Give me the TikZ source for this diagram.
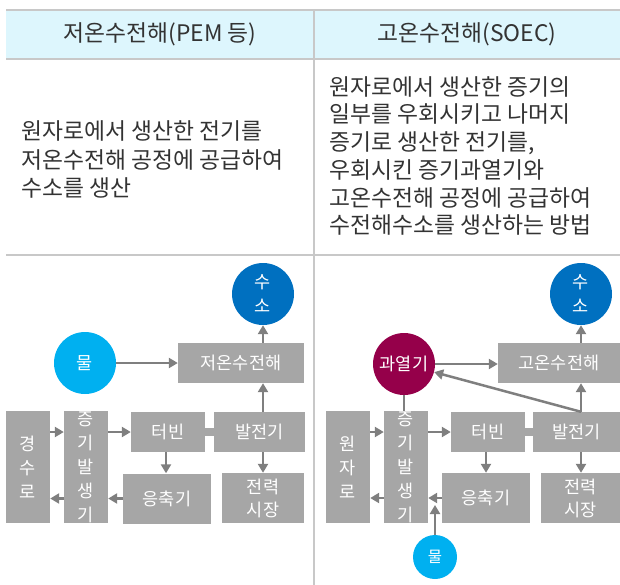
\documentclass[tikz,border=0pt]{standalone}
\usepackage{fontspec}
\setmainfont{Noto Sans CJK KR}
\usetikzlibrary{arrows.meta}
\definecolor{hdrfill}{HTML}{DDF6FD}
\definecolor{rulec}{HTML}{C8C8C8}
\definecolor{txtc}{HTML}{333333}
\definecolor{boxgray}{HTML}{A6A6A6}
\definecolor{arrgray}{HTML}{7F7F7F}
\definecolor{hblue}{HTML}{0070C0}
\definecolor{wblue}{HTML}{00B0F0}
\definecolor{shred}{HTML}{95004A}
\tikzset{
  gbox/.style={rectangle, fill=boxgray, inner sep=0pt, text=white, align=center,
    font=\fontsize{17.5}{24}\selectfont},
  circ/.style={circle, inner sep=0pt, text=white, align=center,
    font=\fontsize{17.5}{24}\selectfont},
  arr/.style={draw=arrgray, line width=2.5pt, -{Triangle[length=9pt,width=10pt]}},
  plain/.style={draw=arrgray, line width=2.5pt},
  shaft/.style={draw=boxgray, line width=8pt},
  rulel/.style={draw=rulec, line width=1.5pt},
  hdr/.style={text=txtc, font=\fontsize{22.8}{26}\selectfont},
  body/.style={text=txtc, align=left, anchor=west, inner sep=0pt}
}
\begin{document}
\begin{tikzpicture}[x=1pt, y=-1pt]
\useasboundingbox (0,0) rectangle (620,585);
% table
\fill[hdrfill] (6,10) rectangle (620,59);
\draw[rulel] (6,10) -- (620,10);
\draw[rulel] (6,59) -- (620,59);
\draw[rulel] (6,255) -- (620,255);
\draw[rulel] (314,10) -- (314,585);
\node[hdr] (hl) at (160,34) {저온수전해(PEM 등)};
\node[hdr] (hr) at (467,34) {고온수전해(SOEC)};
\node[body, font=\fontsize{22.8}{28.5}\selectfont] (tl) at (21,159.5)
  {원자로에서 생산한 전기를\\저온수전해 공정에 공급하여\\수소를 생산};
\node[body, font=\fontsize{22.8}{27.7}\selectfont] (tr) at (329,156)
  {원자로에서 생산한 증기의\\일부를 우회시키고 나머지\\증기로 생산한 전기를,\\우회시킨 증기과열기와\\고온수전해 공정에 공급하여\\수전해수소를 생산하는 방법};

% ---------- left diagram ----------
\node[circ, fill=hblue, minimum size=62pt] (Lh2) at (263,294) {수\\소};
\node[circ, fill=wblue, minimum size=62pt] (Lw) at (85,363) {물};
\node[gbox, minimum width=126pt, minimum height=40pt] (Lel) at (241,363) {저온수전해};
\node[gbox, minimum width=44pt, minimum height=112pt] (Lre) at (28,467) {경\\수\\로};
\node[gbox, minimum width=44pt, minimum height=112pt] (Lsg) at (86,467) {증\\기\\발\\생\\기};
\node[gbox, minimum width=74pt, minimum height=40pt] (Ltu) at (168,432) {터빈};
\node[gbox, minimum width=91pt, minimum height=40pt] (Lge) at (259.5,432) {발전기};
\node[gbox, minimum width=88pt, minimum height=50pt] (Lco) at (167,498.5) {응축기};
\node[gbox, minimum width=82pt, minimum height=50pt, font=\fontsize{17.5}{23}\selectfont] (Lmk) at (263,498) {전력\\시장};

\draw[shaft] (Ltu.east) -- (Lge.west);
\draw[arr] (Lre.east |- Ltu) -- (Lsg.west |- Ltu);
\draw[arr] (Lsg.east |- Ltu) -- (Ltu.west);
\draw[arr] (Lsg.west |- Lco) -- (Lre.east |- Lco);
\draw[arr] (Lco.west) -- (Lsg.east |- Lco);
\draw[arr] (166,452) coordinate (Lta) -- (Lta |- Lco.north);
\draw[arr] (Lh2 |- Lge.south) -- (Lh2 |- Lmk.north);
\draw[arr] (Lh2 |- Lge.north) -- (Lh2 |- Lel.south);
\draw[arr] (Lh2 |- Lel.north) -- (Lh2.south);
\draw[arr] (Lw.east) -- (Lel.west |- Lw);

% ---------- right diagram ----------
\node[circ, fill=hblue, minimum size=62pt] (Rh2) at (581,294) {수\\소};
\node[circ, fill=shred, minimum size=62pt] (Rsh) at (404,364) {과열기};
\node[gbox, minimum width=122pt, minimum height=40pt] (Rel) at (559,363) {고온수전해};
\node[gbox, minimum width=44pt, minimum height=112pt] (Rre) at (348,467) {원\\자\\로};
\node[gbox, minimum width=44pt, minimum height=112pt] (Rsg) at (406,467) {증\\기\\발\\생\\기};
\node[gbox, minimum width=74pt, minimum height=40pt] (Rtu) at (488,432) {터빈};
\node[gbox, minimum width=87pt, minimum height=40pt] (Rge) at (576.5,432) {발전기};
\node[gbox, minimum width=88pt, minimum height=50pt] (Rco) at (486,498) {응축기};
\node[gbox, minimum width=79pt, minimum height=50pt, font=\fontsize{17.5}{23}\selectfont] (Rmk) at (580.5,498) {전력\\시장};
\node[circ, fill=wblue, minimum size=44pt, font=\fontsize{15.5}{18}\selectfont] (Rw) at (435,557) {물};

\draw[shaft] (Rtu.east) -- (Rge.west);
\draw[arr] (Rre.east |- Rtu) -- (Rsg.west |- Rtu);
\draw[arr] (Rsg.east |- Rtu) -- (Rtu.west);
\draw[arr] (Rsg.west |- Rco) -- (Rre.east |- Rco);
\draw[arr] (Rco.west) -- (Rsg.east |- Rco);
\coordinate (Rwt) at (435,505);
\draw[arr] (Rw.north) -- (Rwt);
\draw[arr] (Rco.north |- Rtu.south) -- (Rco.north);
\draw[arr] (Rh2 |- Rge.south) -- (Rh2 |- Rmk.north);
\draw[arr] (Rh2 |- Rge.north) -- (Rh2 |- Rel.south);
\draw[arr] (Rh2 |- Rel.north) -- (Rh2.south);
\draw[arr] (Rsh.east) -- (Rel.west |- Rsh);
\draw[plain] (Rsh.south) -- (Rsh.south |- Rsg.north);
\draw[arr] (Rh2 |- Rge.north) -- (Rsh);
\end{tikzpicture}
\end{document}
